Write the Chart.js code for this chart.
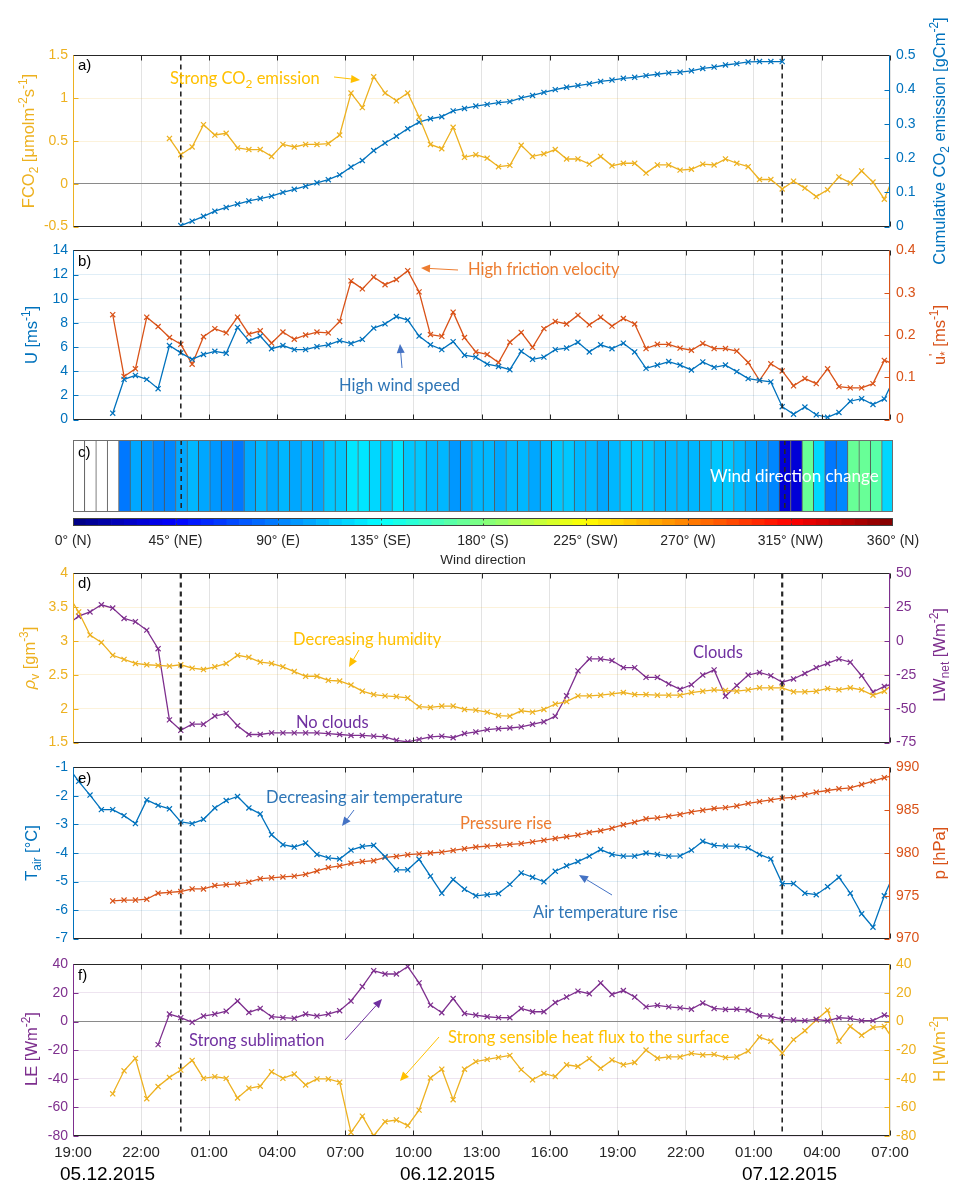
<!DOCTYPE html>
<html>
<head>
<meta charset="utf-8">
<script src="https://cdn.jsdelivr.net/npm/chart.js@4.4.1/dist/chart.umd.min.js"></script>
<style>
  html, body { margin: 0; padding: 0; background: #ffffff; }
  body { width: 964px; height: 1184px; position: relative; overflow: hidden; }
  canvas { position: absolute; left: 0; }
  #notes { top: 0; pointer-events: none; }
</style>
</head>
<body>
<canvas id="pa"></canvas>
<canvas id="pb"></canvas>
<canvas id="pc"></canvas>
<canvas id="cbar"></canvas>
<canvas id="pd"></canvas>
<canvas id="pe"></canvas>
<canvas id="pf"></canvas>
<canvas id="notes" width="964" height="1184"></canvas>
<script>
// Half-hourly averages, hours after 19:00 on 05.12.2015 (stamps at :15 and :45)
const N = null;
const timeH = [-0.25, 0.25, 0.75, 1.25, 1.75, 2.25, 2.75, 3.25, 3.75, 4.25,
  4.75, 5.25, 5.75, 6.25, 6.75, 7.25, 7.75, 8.25, 8.75, 9.25,
  9.75, 10.25, 10.75, 11.25, 11.75, 12.25, 12.75, 13.25, 13.75, 14.25,
  14.75, 15.25, 15.75, 16.25, 16.75, 17.25, 17.75, 18.25, 18.75, 19.25,
  19.75, 20.25, 20.75, 21.25, 21.75, 22.25, 22.75, 23.25, 23.75, 24.25,
  24.75, 25.25, 25.75, 26.25, 26.75, 27.25, 27.75, 28.25, 28.75, 29.25,
  29.75, 30.25, 30.75, 31.25, 31.75, 32.25, 32.75, 33.25, 33.75, 34.25,
  34.75, 35.25, 35.75, 36.25];

// a) CO2 flux [umol m-2 s-1] and cumulative emission [gC m-2]
const fco2 = [N, N, N, N, N, N, N, N, N,
  0.53, 0.34, 0.43, 0.69, 0.57, 0.59, 0.42, 0.40, 0.40, 0.32,
  0.46, 0.43, 0.46, 0.46, 0.47, 0.57, 1.06, 0.89, 1.25, 1.06,
  0.97, 1.06, 0.78, 0.46, 0.41, 0.66, 0.31, 0.34, 0.30, 0.20,
  0.215, 0.45, 0.32, 0.35, 0.40, 0.29, 0.29, 0.23, 0.32, 0.21,
  0.24, 0.24, 0.125, 0.22, 0.22, 0.16, 0.17, 0.23, 0.22, 0.29,
  0.24, 0.20, 0.05, 0.05, -0.06, 0.03, -0.05, -0.15, -0.07, 0.08,
  0.01, 0.15, 0.02, -0.18, 0.15];
const cumCO2 = [N, N, N, N, N, N, N, N, N, N,
  0.003, 0.016, 0.03, 0.045, 0.056, 0.066, 0.075, 0.082, 0.089, 0.10,
  0.109, 0.118, 0.128, 0.137, 0.151, 0.174, 0.193, 0.222, 0.244, 0.264,
  0.286, 0.305, 0.315, 0.321, 0.338, 0.345, 0.352, 0.357, 0.362, 0.365,
  0.376, 0.383, 0.392, 0.40, 0.407, 0.412, 0.417, 0.424, 0.428, 0.433,
  0.436, 0.441, 0.445, 0.449, 0.451, 0.455, 0.462, 0.466, 0.472, 0.476,
  0.481, 0.482, 0.482, 0.482,
  N, N, N, N, N, N, N, N, N, N];

// b) wind speed U [m s-1] and friction velocity u* [m s-1]
const windU = [N, N, N, N,
  0.53, 3.33, 3.65, 3.33, 2.56, 6.13, 5.52, 4.99, 5.39, 5.65,
  5.49, 7.63, 6.51, 6.91, 5.87, 6.13, 5.79, 5.79, 6.03, 6.19,
  6.53, 6.29, 6.64, 7.57, 7.92, 8.53, 8.24, 6.91, 6.19, 5.79,
  6.45, 5.33, 5.17, 4.59, 4.40, 4.13, 5.65, 4.99, 5.17, 5.79,
  5.92, 6.40, 5.60, 6.19, 5.87, 6.32, 5.60, 4.24, 4.51, 4.80,
  4.51, 4.11, 4.77, 4.32, 4.51, 3.97, 3.39, 3.25, 3.12, 1.07,
  0.45, 1.04, 0.40, 0.19, 0.59, 1.52, 1.73, 1.25, 1.71, 3.70];
const uStar = [N, N, N, N,
  0.248, 0.102, 0.12, 0.242, 0.22, 0.194, 0.178, 0.131, 0.196, 0.215,
  0.205, 0.242, 0.202, 0.21, 0.181, 0.207, 0.19, 0.20, 0.207, 0.205,
  0.232, 0.328, 0.309, 0.337, 0.319, 0.331, 0.352, 0.302, 0.201, 0.197,
  0.254, 0.194, 0.16, 0.154, 0.135, 0.183, 0.206, 0.171, 0.215, 0.232,
  0.226, 0.247, 0.224, 0.242, 0.221, 0.239, 0.226, 0.168, 0.178, 0.178,
  0.169, 0.164, 0.18, 0.168, 0.168, 0.162, 0.135, 0.093, 0.132, 0.115,
  0.08, 0.097, 0.085, 0.12, 0.078, 0.075, 0.075, 0.085, 0.14, 0.13];

// c) wind direction [deg]
const windDir = [N, N, N, N, N,
  85, 105, 96, 90, 92, 102, 107, 102, 99, 93,
  87, 105, 110, 105, 110, 102, 107, 105, 115, 118,
  124, 127, 121, 118, 124, 118, 115, 110, 107, 99,
  105, 110, 110, 105, 110, 107, 102, 110, 115, 118,
  110, 107, 105, 110, 115, 118, 115, 112, 110, 107,
  110, 112, 115, 118, 110, 105, 100, 92, 30, 30,
  172, 122, 85, 95, 172, 172, 168, 122, N];
const dirTicks = ['0° (N)', '45° (NE)', '90° (E)', '135° (SE)', '180° (S)',
  '225° (SW)', '270° (W)', '315° (NW)', '360° (N)'];

// d) absolute humidity [g m-3] and net longwave radiation [W m-2]
const rhoV = [3.70, 3.43, 3.09, 2.98, 2.79, 2.73, 2.67, 2.65, 2.64, 2.63,
  2.65, 2.60, 2.58, 2.62, 2.67, 2.79, 2.76, 2.69, 2.67, 2.62,
  2.55, 2.48, 2.48, 2.42, 2.41, 2.35, 2.26, 2.21, 2.19, 2.18,
  2.16, 2.03, 2.02, 2.04, 2.04, 1.99, 1.98, 1.95, 1.90, 1.89,
  1.97, 1.95, 1.99, 2.07, 2.105, 2.19, 2.19, 2.20, 2.22, 2.24,
  2.21, 2.21, 2.20, 2.20, 2.20, 2.24, 2.26, 2.28, 2.27, 2.26,
  2.28, 2.31, 2.31, 2.31, 2.25, 2.25, 2.26, 2.30, 2.28, 2.31,
  2.28, 2.20, 2.26, 2.40];
const lwNet = [12, 18.4, 21.5, 26.8, 24.4, 16.7, 14.3, 8.1, -5.6, -58.2,
  -65.9, -61.4, -61.4, -55.4, -53.4, -62.5, -69, -69, -67.8, -67.8,
  -67.8, -67.8, -67.8, -68.3, -69, -69.7, -69.7, -70.2, -70.7, -73.3,
  -74.5, -72.6, -70.7, -70.2, -71.4, -68.3, -67.1, -65.4, -64.7, -64.2,
  -63.4, -61.5, -59.6, -55.5, -40.4, -22, -13.2, -13.2, -14.4, -19.6,
  -19.6, -26.8, -26.8, -31.6, -35.6, -32.3, -25.1, -21.3, -40.7, -32.8,
  -25.1, -23.2, -25.6, -30.4, -28, -23.9, -19.6, -16.5, -13.2, -15.6,
  -25.6, -37.6, -33.5, -31];

// e) air temperature [degC] and pressure [hPa]
const tAir = [-0.95, -1.49, -1.97, -2.48, -2.48, -2.69, -2.97, -2.14, -2.33, -2.45,
  -2.91, -2.97, -2.82, -2.42, -2.16, -2.02, -2.42, -2.63, -3.36, -3.71,
  -3.79, -3.65, -4.05, -4.17, -4.21, -3.90, -3.77, -3.73, -4.13, -4.59,
  -4.59, -4.22, -4.81, -5.41, -4.93, -5.27, -5.50, -5.46, -5.42, -5.10,
  -4.70, -4.85, -5.01, -4.64, -4.45, -4.30, -4.11, -3.88, -4.05, -4.11,
  -4.11, -4.00, -4.05, -4.11, -4.10, -3.90, -3.59, -3.73, -3.76, -3.76,
  -3.82, -4.05, -4.21, -5.07, -5.07, -5.41, -5.46, -5.18, -4.85, -5.41,
  -6.13, -6.60, -5.50, -4.60];
const pAir = [N, N, N, N,
  974.4, 974.5, 974.5, 974.6, 975.3, 975.4, 975.5, 975.8, 975.8, 976.2,
  976.3, 976.4, 976.6, 977.0, 977.1, 977.2, 977.3, 977.5, 977.9, 978.3,
  978.5, 978.8, 979.0, 979.1, 979.5, 979.6, 979.8, 979.9, 980.0, 980.1,
  980.3, 980.5, 980.7, 980.8, 980.9, 981.0, 981.1, 981.3, 981.5, 981.7,
  981.9, 982.1, 982.4, 982.6, 982.9, 983.3, 983.6, 984.0, 984.1, 984.3,
  984.5, 984.8, 985.0, 985.2, 985.3, 985.5, 985.8, 986.0, 986.2, 986.4,
  986.5, 986.8, 987.1, 987.3, 987.5, 987.6, 988.0, 988.4, 988.8, 989.1];

// f) latent heat flux LE and sensible heat flux H [W m-2]
const latentLE = [N, N, N, N, N, N, N, N,
  -16.1, 5.3, 2.8, -0.5, 3.9, 5.3, 7.3, 14.4, 6.4, 9.2,
  3.4, 2.8, 2.3, 5.3, 3.9, 5.3, 7.6, 14.4, 24.5, 35.6,
  33.3, 33.3, 38.5, 27.1, 11.5, 6.2, 16.1, 5.7, 4.6, 3.4,
  2.8, 2.7, 9.2, 6.9, 6.9, 13.3, 17.2, 21.3, 19.5, 27,
  19, 21.7, 17.2, 10.3, 11.4, 10.3, 9.6, 8.7, 13, 9.2,
  8.5, 8.7, 8, 4.1, 3.9, 1.6, 1.1, 0.7, 1.6, 0.5,
  2.7, 2.3, 0.7, 0.7, 4.6, 2.5];
const sensibleH = [N, N, N, N,
  -50.5, -34.4, -25.7, -53.9, -45.4, -39, -33.9, -27.1, -39.7, -38.5,
  -39.7, -53.4, -46.6, -45.2, -35.1, -39.7, -36.7, -44.3, -40.1, -40.1,
  -42.4, -77.5, -66.1, -79.8, -70, -68.8, -72.7, -61.9, -39.4, -33.3,
  -54.6, -33.3, -28, -26.4, -25, -23.6, -33.6, -40.7, -36.2, -38.4,
  -30.2, -31.4, -25.9, -32.7, -26.8, -30.2, -28.6, -19.9, -25.6, -24.7,
  -24.7, -22.2, -23.3, -22.9, -25.2, -24.7, -20.6, -10.8, -13.7, -22,
  -12.6, -6.4, 1.1, 8, -13.7, -3.4, -9.6, -4.1, -3.4, -15];

// vertical markers: 23:45 on 05.12 and 02:15 on 07.12
const eventTimes = [4.75, 31.25];

// ---------------------------------------------------------------------
const W = 964, PL = 73, PR = 890;
const FONT = "'Liberation Sans', Arial, Helvetica, sans-serif";
const NOTE = "Lato, 'Open Sans', sans-serif";
const COL = { orange: '#EDB120', blue: '#0072BD', red: '#D95319', purple: '#7E2F8E', ax: '#262626' };
Chart.defaults.font.family = FONT;

function hourLabel(v) {
  const h = (19 + v) % 24;
  return String(h).padStart(2, '0') + ':00';
}
function shortNum(v) { return String(Math.round(v * 1000) / 1000); }
function points(arr) { return timeH.map((t, i) => ({ x: t, y: arr[i] })); }
function lineSet(arr, color, axis) {
  return {
    data: points(arr), yAxisID: axis, borderColor: color, backgroundColor: color,
    borderWidth: 1.3, pointStyle: 'crossRot', pointRadius: 3.6, pointBorderWidth: 1.2,
    pointHoverRadius: 3.6, tension: 0, spanGaps: false, clip: 0
  };
}
function jet(v) {
  const c = x => Math.round(255 * Math.max(0, Math.min(1, x)));
  return 'rgb(' + c(1.5 - Math.abs(4 * v - 3)) + ',' + c(1.5 - Math.abs(4 * v - 2)) + ',' + c(1.5 - Math.abs(4 * v - 1)) + ')';
}
function dirColor(d) {
  if (d === null) return '#ffffff';
  const i = Math.min(63, Math.floor(d / 360 * 64));
  return jet((i + 0.5) / 64);
}

// Axis box, inward tick marks and the dashed event markers
const framePlugin = {
  id: 'frame',
  afterDatasetsDraw(chart, args, o) {
    if (!o || !o.kind) return;
    const { ctx, chartArea: a, scales } = chart;
    const x = scales.x;
    ctx.save();
    const L = Math.round(a.left) + 0.5, R = Math.round(a.right) - 0.5;
    const T = Math.round(a.top) + 0.5, B = Math.round(a.bottom) - 0.5;
    if (o.kind === 'line') {
      ctx.lineWidth = 1;
      ctx.strokeStyle = COL.ax;
      x.ticks.forEach(t => {
        const px = Math.round(x.getPixelForValue(t.value)) + 0.5;
        ctx.beginPath();
        ctx.moveTo(px, T); ctx.lineTo(px, T + 5);
        ctx.moveTo(px, B); ctx.lineTo(px, B - 5);
        ctx.stroke();
      });
      [['y', L, 1], ['y1', R, -1]].forEach(([id, ex, dir]) => {
        const s = scales[id];
        ctx.strokeStyle = s.options.ticks.color;
        s.ticks.forEach(t => {
          const py = Math.round(s.getPixelForValue(t.value)) + 0.5;
          ctx.beginPath(); ctx.moveTo(ex, py); ctx.lineTo(ex + 5 * dir, py); ctx.stroke();
        });
      });
    }
    // dashed event markers
    ctx.setLineDash([5, 4]);
    ctx.strokeStyle = '#262626';
    ctx.lineWidth = o.dashW || 1.6;
    eventTimes.forEach(t => {
      const px = x.getPixelForValue(t);
      ctx.beginPath(); ctx.moveTo(px, a.top); ctx.lineTo(px, a.bottom); ctx.stroke();
    });
    ctx.setLineDash([]);
    ctx.lineWidth = 1;
    if (o.kind === 'line') {
      ctx.strokeStyle = COL.ax;
      ctx.beginPath(); ctx.moveTo(L, T); ctx.lineTo(R, T); ctx.moveTo(L, B); ctx.lineTo(R, B); ctx.stroke();
      ctx.strokeStyle = scales.y.options.ticks.color;
      ctx.beginPath(); ctx.moveTo(L, T); ctx.lineTo(L, B); ctx.stroke();
      ctx.strokeStyle = scales.y1.options.ticks.color;
      ctx.beginPath(); ctx.moveTo(R, T); ctx.lineTo(R, B); ctx.stroke();
    } else {
      ctx.strokeStyle = '#6e6e6e';
      ctx.strokeRect(L, T, R - L, B - T);
    }
    ctx.restore();
  }
};

function yAxis(a, pos) {
  return {
    type: 'linear', position: pos, min: a.min, max: a.max,
    afterFit: s => { s.width = pos === 'left' ? PL : W - PR; },
    ticks: { stepSize: a.step, color: a.color, font: { family: FONT, size: 14 }, padding: pos === 'left' ? 5 : 6,
             autoSkip: false, callback: shortNum },
    grid: pos === 'left'
      ? { drawTicks: false, color: c => (a.zero && c.tick.value === 0) ? '#8a8a8a' : a.grid }
      : { display: false, drawTicks: false },
    border: { display: false }
  };
}

function linePanel(id, top, bottom, p) {
  const padTop = 12, padBot = p.xLabels ? 40 : 12;
  const cv = document.getElementById(id);
  cv.width = W; cv.height = bottom - top + padTop + padBot;
  cv.style.top = (top - padTop) + 'px';
  return new Chart(cv, {
    type: 'line',
    data: { datasets: p.datasets },
    options: {
      responsive: false, animation: false, events: [],
      layout: { padding: { top: padTop, bottom: 0, left: 0, right: 0 } },
      plugins: { legend: { display: false }, tooltip: { enabled: false }, frame: { kind: 'line', dashW: p.dashW } },
      scales: {
        x: {
          type: 'linear', min: 0, max: 36,
          afterFit: s => { s.height = padBot; },
          ticks: { display: !!p.xLabels, stepSize: 3, autoSkip: false, maxRotation: 0, callback: hourLabel,
                   color: COL.ax, font: { family: FONT, size: 15 }, padding: 8 },
          grid: { drawTicks: false, color: 'rgba(38,38,38,0.13)' },
          border: { display: false }
        },
        y: yAxis(p.left, 'left'),
        y1: yAxis(p.right, 'right')
      }
    },
    plugins: [framePlugin]
  });
}

// a)
linePanel('pa', 53, 229, {
  left: { min: -0.5, max: 1.5, step: 0.5, color: COL.orange, grid: 'rgba(237,177,32,0.16)', zero: true },
  right: { min: 0, max: 0.5, step: 0.1, color: COL.blue },
  datasets: [lineSet(fco2, COL.orange, 'y'), lineSet(cumCO2, COL.blue, 'y1')]
});
// b)
linePanel('pb', 248, 422, {
  left: { min: 0, max: 14, step: 2, color: COL.blue, grid: 'rgba(0,114,189,0.12)' },
  right: { min: 0, max: 0.4, step: 0.1, color: COL.red },
  datasets: [lineSet(windU, COL.blue, 'y'), lineSet(uStar, COL.red, 'y1')]
});
// d)
linePanel('pd', 571, 745, {
  left: { min: 1.5, max: 4, step: 0.5, color: COL.orange, grid: 'rgba(237,177,32,0.16)' },
  right: { min: -75, max: 50, step: 25, color: COL.purple },
  dashW: 2.2,
  datasets: [lineSet(rhoV, COL.orange, 'y'), lineSet(lwNet, COL.purple, 'y1')]
});
// e)
linePanel('pe', 765, 941, {
  left: { min: -7, max: -1, step: 1, color: COL.blue, grid: 'rgba(0,114,189,0.12)' },
  right: { min: 970, max: 990, step: 5, color: COL.red },
  dashW: 1.8,
  datasets: [lineSet(tAir, COL.blue, 'y'), lineSet(pAir, COL.red, 'y1')]
});
// f)
linePanel('pf', 962, 1136, {
  left: { min: -80, max: 40, step: 20, color: COL.purple, grid: 'rgba(126,47,142,0.13)', zero: true },
  right: { min: -80, max: 40, step: 20, color: COL.orange },
  xLabels: true,
  datasets: [lineSet(latentLE, COL.purple, 'y'), lineSet(sensibleH, COL.orange, 'y1')]
});

// c) wind direction cells
(function () {
  const top = 440, bottom = 512, padTop = 4, padBot = 4;
  const cv = document.getElementById('pc');
  cv.width = W; cv.height = bottom - top + padTop + padBot;
  cv.style.top = (top - padTop) + 'px';
  const cells = [], colors = [];
  timeH.forEach((t, i) => {
    if (t < 0 || t > 36) return;
    cells.push({ x: t, y: [0, 1] });
    colors.push(dirColor(windDir[i]));
  });
  new Chart(cv, {
    type: 'bar',
    data: { datasets: [{ data: cells, backgroundColor: colors, borderColor: 'rgba(30,30,30,0.75)',
      borderWidth: { left: 1, right: 0, top: 0, bottom: 0 }, borderSkipped: false,
      barPercentage: 1, categoryPercentage: 1 }] },
    options: {
      responsive: false, animation: false, events: [],
      layout: { padding: { top: padTop, bottom: padBot, left: 73, right: W - 893 } },
      plugins: { legend: { display: false }, tooltip: { enabled: false }, frame: { kind: 'cells', dashW: 1.6 } },
      scales: {
        x: { type: 'linear', min: 0, max: 36, offset: false, display: false },
        y: { min: 0, max: 1, display: false }
      }
    },
    plugins: [framePlugin]
  });
})();

// colour bar of the direction scale
(function () {
  const top = 518, bottom = 526, padTop = 8, axisH = 44;
  const cv = document.getElementById('cbar');
  cv.width = W; cv.height = bottom - top + padTop + axisH;
  cv.style.top = (top - padTop) + 'px';
  const steps = [], colors = [];
  for (let i = 0; i < 64; i++) { steps.push({ x: (i + 0.5) * 5.625, y: [0, 1] }); colors.push(jet((i + 0.5) / 64)); }
  const barTicks = {
    id: 'barTicks',
    afterDatasetsDraw(chart) {
      const { ctx, chartArea: a, scales: { x } } = chart;
      ctx.save();
      ctx.strokeStyle = '#404040'; ctx.lineWidth = 1;
      ctx.strokeRect(a.left + 0.5, a.top + 0.5, a.right - a.left - 1, a.bottom - a.top - 1);
      for (let v = 45; v < 360; v += 45) {
        const px = Math.round(x.getPixelForValue(v)) + 0.5;
        ctx.beginPath(); ctx.moveTo(px, a.top); ctx.lineTo(px, a.top + 2.5);
        ctx.moveTo(px, a.bottom); ctx.lineTo(px, a.bottom - 2.5); ctx.stroke();
      }
      ctx.restore();
    }
  };
  new Chart(cv, {
    type: 'bar',
    data: { datasets: [{ data: steps, backgroundColor: colors, borderWidth: 0, barPercentage: 1, categoryPercentage: 1 }] },
    options: {
      responsive: false, animation: false, events: [],
      layout: { padding: { top: padTop, bottom: 0, left: 73, right: W - 893 } },
      plugins: { legend: { display: false }, tooltip: { enabled: false } },
      scales: {
        x: {
          type: 'linear', min: 0, max: 360, offset: false,
          afterFit: s => { s.height = axisH; },
          ticks: { stepSize: 45, autoSkip: false, maxRotation: 0, callback: v => dirTicks[v / 45],
                   color: COL.ax, font: { family: FONT, size: 14 }, padding: 7 },
          grid: { display: false, drawTicks: false }, border: { display: false },
          title: { display: true, text: 'Wind direction', color: COL.ax, font: { family: FONT, size: 13.5 }, padding: { top: 0, bottom: 2 } }
        },
        y: { min: 0, max: 1, display: false }
      }
    },
    plugins: [barTicks]
  });
})();

// ---------------------------------------------------------------------
// axis titles, panel letters, dates and annotations
const nc = document.getElementById('notes').getContext('2d');

function rich(parts, x, y, size, color, opt) {
  opt = opt || {};
  const fam = opt.family || FONT;
  nc.save();
  nc.translate(x, y);
  if (opt.rotate) nc.rotate(-Math.PI / 2);
  nc.fillStyle = color;
  nc.textBaseline = 'alphabetic';
  const segs = parts.map(p => typeof p === 'string' ? { t: p, m: 0 } : { t: p[0], m: p[1], it: p[2] });
  const fs = m => m ? size * 0.72 : size;
  let w = 0;
  segs.forEach(s => {
    nc.font = (s.it ? 'italic ' : '') + fs(s.m) + 'px ' + fam;
    s.w = nc.measureText(s.t).width;
    if (s.m !== 2) w += s.w;
  });
  let cx = opt.left ? 0 : -w / 2;
  const base = size * 0.36;
  segs.forEach(s => {
    nc.font = (s.it ? 'italic ' : '') + fs(s.m) + 'px ' + fam;
    const dy = (s.m === 1 || s.m === 2) ? -size * 0.42 : s.m === -1 ? size * 0.26 : 0;
    nc.fillText(s.t, cx, base + dy);
    if (s.m !== 2) cx += s.w;
  });
  nc.restore();
}

function arrow(x1, y1, x2, y2, color) {
  const ang = Math.atan2(y2 - y1, x2 - x1), L = 9, H = 4;
  const bx = x2 - L * Math.cos(ang), by = y2 - L * Math.sin(ang);
  nc.save();
  nc.strokeStyle = color; nc.fillStyle = color; nc.lineWidth = 1;
  nc.beginPath(); nc.moveTo(x1, y1); nc.lineTo(bx, by); nc.stroke();
  nc.beginPath();
  nc.moveTo(x2, y2);
  nc.lineTo(bx + H * Math.sin(ang), by - H * Math.cos(ang));
  nc.lineTo(bx - H * Math.sin(ang), by + H * Math.cos(ang));
  nc.closePath(); nc.fill();
  nc.restore();
}

const TS = 16.5;
// left axis titles
rich(['FCO', ['2', -1], ' [', 'μ', 'molm', ['-2', 1], 's', ['-1', 1], ']'], 28, 141, TS, COL.orange, { rotate: true });
rich(['U [ms', ['-1', 1], ']'], 31, 335, TS, COL.blue, { rotate: true });
rich([['ρ', 0, true], ['v', -1], ' [gm', ['-3', 1], ']'], 29, 658, TS, COL.orange, { rotate: true });
rich(['T', ['air', -1], ' [°C]'], 31, 853, TS, COL.blue, { rotate: true });
rich(['LE [Wm', ['-2', 1], ']'], 31, 1049, TS, COL.purple, { rotate: true });
// right axis titles
rich(['Cumulative CO', ['2', -1], ' emission [gCm', ['-2', 1], ']'], 939, 141, TS, COL.blue, { rotate: true });
rich(['u', ["'", 2], ['*', -1], ' [ms', ['-1', 1], ']'], 939, 335, TS, COL.red, { rotate: true });
rich(['LW', ['net', -1], ' [Wm', ['-2', 1], ']'], 939, 655, TS, COL.purple, { rotate: true });
rich(['p [hPa]'], 939, 853, TS, COL.red, { rotate: true });
rich(['H [Wm', ['-2', 1], ']'], 939, 1049, TS, COL.orange, { rotate: true });

// panel letters
[['a)', 65], ['b)', 261], ['c)', 452], ['d)', 583], ['e)', 778], ['f)', 975]].forEach(([t, y]) => {
  rich([t], 78, y, 15, '#000000', { left: true });
});

// dates under the time axis
rich(['05.12.2015'], 60, 1173, 19, '#000000', { left: true });
rich(['06.12.2015'], 400, 1173, 19, '#000000', { left: true });
rich(['07.12.2015'], 742, 1173, 19, '#000000', { left: true });

// annotations
const NS = 16.5, NO = { left: true, family: NOTE };
rich(['Strong CO', ['2', -1], ' emission'], 170, 78, NS, '#FFC000', NO);
arrow(334, 77, 360, 80, '#FFC000');
rich(['High friction velocity'], 468, 269, NS, '#ED7D31', NO);
arrow(458, 270, 421, 268, '#ED7D31');
rich(['High wind speed'], 339, 385, NS, '#2E75B6', NO);
arrow(402, 368, 400, 344, '#4472C4');
rich(['Wind direction change'], 710, 476, 17, '#FFFFFF', NO);
rich(['Decreasing humidity'], 293, 639, NS, '#FFC000', NO);
arrow(359, 650, 349, 667, '#FFC000');
rich(['No clouds'], 296, 722, NS, '#7030A0', NO);
rich(['Clouds'], 693, 652, NS, '#7030A0', NO);
rich(['Decreasing air temperature'], 266, 797, NS, '#2E75B6', NO);
arrow(354, 810, 342, 826, '#4472C4');
rich(['Pressure rise'], 460, 823, NS, '#ED7D31', NO);
rich(['Air temperature rise'], 533, 912, NS, '#2E75B6', NO);
arrow(612, 895, 579, 875, '#4472C4');
rich(['Strong sublimation'], 189, 1040, NS, '#7030A0', NO);
arrow(345, 1040, 382, 999, '#7030A0');
rich(['Strong sensible heat flux to the surface'], 448, 1037, NS, '#FFC000', NO);
arrow(439, 1037, 400, 1081, '#FFC000');
</script>
</body>
</html>
